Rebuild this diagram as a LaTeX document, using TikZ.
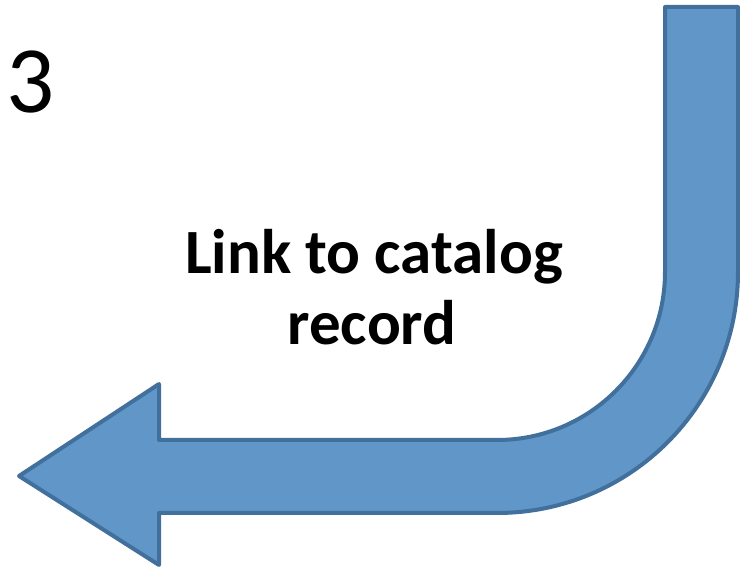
\documentclass[tikz,border=0pt]{standalone}
\usepackage{fontspec}
\setmainfont{Carlito}
\usetikzlibrary{positioning}
\definecolor{azulflecha}{HTML}{6096C8}
\definecolor{bordeflecha}{HTML}{41709C}

\begin{document}
\begin{tikzpicture}[
				x=1pt, y=-1pt, % un punto por pixel, eje y hacia abajo
				% --- Estilos ---
				flecha_doblada/.style={
					fill=azulflecha,
					draw=bordeflecha,
					line width=4pt,
					line join=round
				},
				numero/.style={
					anchor=base west,
					inner sep=0pt,
					font=\fontsize{95}{100}\selectfont
				},
				titulo/.style={
					anchor=base,
					inner sep=0pt,
					font=\fontsize{63}{70}\selectfont\bfseries
				}
				]
				% 0. Marco de la imagen
				\useasboundingbox (0,0) rectangle (740,569);
				
				% 1. Flecha doblada: baja por la derecha y gira hacia la izquierda
				\draw[flecha_doblada] (19,476) -- (159,384) -- (159,440) -- (497,440)
				arc[start angle=90, end angle=0, radius=168] -- (665,7) -- (738,7) -- (738,272)
				arc[start angle=0, end angle=90, radius=241] -- (159,513) -- (159,565) -- cycle;
				
				% 2. Numero del paso
				\node[numero] (paso) at (6,113) {3};
				
				% 3. Texto en el centro de la curva
				\node[titulo] (enlace) at (374,274) {Link to catalog};
				\node[titulo] (registro) at (372,345) {record};
				
			\end{tikzpicture}
\end{document}
